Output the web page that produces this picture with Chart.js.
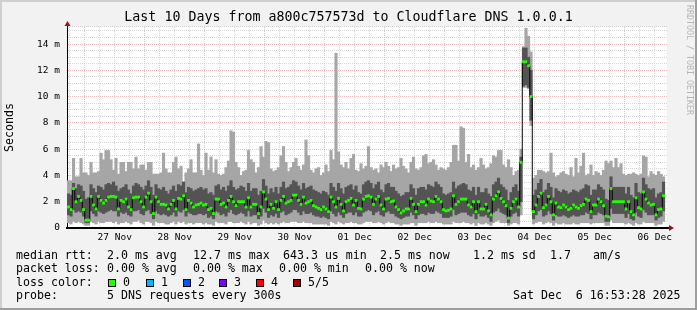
<!DOCTYPE html>
<html>
<head>
<meta charset="utf-8">
<script src="https://cdn.jsdelivr.net/npm/chart.js@4/dist/chart.umd.min.js"></script>
<style>
html,body{margin:0;padding:0;background:#f2f2f2;}
#wrap{position:relative;width:697px;height:310px;}
</style>
</head>
<body>
<div id="wrap"><canvas id="c" width="697" height="310"></canvas></div>
<script>
// ---- data (milliseconds), one value per hourly slot, first slot starts 26 Nov 17:00 ----
const FIRST_SLOT_HOUR = 17;          // hours since 26 Nov 00:00
const RANGE_START = 16.891;          // 26 Nov 16:53:28
const RANGE_END = 256.891;           // 06 Dec 16:53:28

const pingMin = [
0.4,0.3,0.5,0.4,0.5,0.4,0.3,0.2,0.2,0.5,
0.4,0.3,0.5,0.4,0.4,0.5,0.5,0.5,0.4,0.5,
0.3,0.4,0.4,0.5,0.4,0.3,0.5,0.5,0.6,0.4,
0.3,0.5,0.5,0.4,0.2,0.5,0.4,0.4,0.4,0.3,
0.3,0.4,0.5,0.3,0.5,0.4,0.5,0.3,0.4,0.4,
0.3,0.4,0.4,0.4,0.3,0.4,0.3,0.3,0.2,0.5,
0.4,0.4,0.4,0.3,0.5,0.5,0.4,0.4,0.4,0.5,
0.4,0.3,0.5,0.3,0.4,0.4,0.2,0.3,0.6,0.4,
0.3,0.4,0.3,0.4,0.3,0.4,0.5,0.4,0.4,0.5,
0.5,0.5,0.4,0.4,0.5,0.4,0.4,0.4,0.3,0.3,
0.3,0.3,0.3,0.3,0.2,0.5,0.4,0.3,0.5,0.4,
0.3,0.4,0.4,0.5,0.4,0.4,0.3,0.3,0.4,0.5,
0.5,0.5,0.4,0.4,0.5,0.4,0.3,0.4,0.5,0.4,
0.4,0.3,0.3,0.2,0.3,0.3,0.3,0.4,0.4,0.2,
0.4,0.4,0.4,0.4,0.5,0.4,0.4,0.5,0.4,0.4,
0.3,0.3,0.3,0.3,0.5,0.4,0.4,0.4,0.5,0.4,
0.4,0.3,0.4,0.2,0.4,0.3,0.3,0.4,0.3,0.2,
0.4,0.5,0.6,0.4,0.4,0.4,0.2,0.3,0.4,0.4,
0.3,1.0,10.7,10.7,10.6,7.8,0.3,0.4,0.5,0.5,
0.3,0.4,0.5,0.4,0.2,0.4,0.3,0.3,0.4,0.3,
0.3,0.3,0.4,0.3,0.3,0.4,0.4,0.4,0.4,0.3,
0.4,0.4,0.4,0.4,0.4,0.2,0.2,0.6,0.4,0.4,
0.4,0.4,0.4,0.3,0.4,0.3,0.2,0.4,0.3,0.3,
0.5,0.4,0.4,0.4,0.4,0.2,0.3,0.3,0.5];

const pingLow = [
1.0,0.9,1.4,1.2,1.3,1.2,0.9,0.4,0.4,1.3,
1.1,0.9,1.3,1.2,1.1,1.2,1.3,1.4,1.3,1.3,
0.9,1.2,1.1,1.2,1.0,0.9,1.3,1.3,1.4,1.1,
1.0,1.3,1.4,1.1,0.7,1.3,1.1,1.0,1.1,1.0,
0.9,1.0,1.2,0.9,1.3,1.2,1.4,0.9,1.2,1.1,
1.0,1.0,1.1,1.1,1.0,1.1,0.8,0.9,0.7,1.3,
1.2,1.0,1.1,0.9,1.2,1.4,1.1,1.0,1.1,1.2,
1.1,0.9,1.3,0.9,1.0,1.0,0.7,0.9,1.5,1.2,
0.8,1.0,0.9,1.1,0.8,1.2,1.3,1.0,1.1,1.2,
1.4,1.4,1.2,1.0,1.3,1.1,1.1,1.2,1.0,0.9,
0.9,0.8,0.9,0.8,0.7,1.3,1.1,0.9,1.2,1.0,
0.8,1.1,1.2,1.2,1.0,1.2,0.9,0.9,1.2,1.3,
1.4,1.3,1.0,1.2,1.3,1.0,0.9,1.2,1.3,1.1,
1.1,0.9,0.8,0.7,0.8,0.9,0.9,1.2,1.0,0.7,
1.0,1.1,1.1,1.0,1.2,1.1,1.1,1.3,1.2,1.1,
0.8,0.8,0.8,0.9,1.4,1.0,1.1,1.2,1.2,1.2,
1.0,0.9,1.1,0.7,1.1,0.9,0.9,1.0,0.8,0.5,
1.2,1.3,1.5,1.2,1.1,1.0,0.4,0.9,1.1,1.2,
0.9,2.0,10.8,10.9,10.7,8.2,0.7,1.0,1.3,1.4,
0.9,1.0,1.3,1.1,0.6,1.0,0.9,0.9,1.0,0.9,
0.8,0.9,1.0,0.9,0.9,1.0,1.0,1.2,1.1,0.7,
1.0,1.0,1.2,1.1,1.0,0.5,0.5,1.5,1.1,1.1,
1.1,1.1,1.1,0.8,1.1,0.7,0.6,1.2,0.9,0.8,
1.4,1.2,1.0,1.0,1.0,0.6,0.8,0.9,1.3];

const median = [
1.6,1.4,3.0,2.0,2.4,2.1,1.4,0.6,0.6,2.4,
1.75,1.45,2.4,2.1,1.9,2.1,2.35,2.4,2.4,2.35,
1.45,2.1,2.0,2.2,1.6,1.4,2.3,2.35,2.35,2.0,
1.6,2.35,2.65,2.0,1.1,2.35,2.0,1.8,1.8,1.75,
1.45,1.8,2.1,1.45,2.25,2.2,2.45,1.4,2.1,1.9,
1.6,1.75,1.8,1.9,1.75,1.8,1.4,1.5,1.1,2.2,
2.2,1.8,1.9,1.6,2.1,2.4,2.0,1.7,2.0,2.0,
2.0,1.6,2.3,1.6,1.8,1.8,1.1,1.6,2.75,2.2,
1.4,1.8,1.5,2.0,1.4,2.1,2.4,1.9,2.0,2.1,
2.5,2.5,2.1,1.8,2.35,1.9,2.0,2.1,1.7,1.6,
1.5,1.4,1.6,1.45,1.25,2.35,2.0,1.6,2.25,1.8,
1.3,2.0,2.1,2.25,1.75,2.1,1.5,1.45,2.2,2.4,
2.45,2.35,1.8,2.2,2.4,1.75,1.45,2.2,2.25,2.0,
2.05,1.6,1.4,1.15,1.3,1.45,1.45,2.25,1.8,1.25,
1.8,2.0,2.0,1.75,2.2,2.05,2.0,2.4,2.2,2.0,
1.4,1.3,1.35,1.45,2.45,1.8,2.0,2.2,2.2,2.2,
1.75,1.6,2.0,1.25,2.0,1.45,1.45,1.8,1.3,1.0,
2.2,2.45,2.75,2.25,2.0,1.7,0.75,1.5,2.0,2.2,
1.6,5.0,12.65,12.65,12.35,10.0,1.25,1.75,2.4,2.65,
1.55,1.75,2.4,2.0,1.0,1.9,1.6,1.55,1.75,1.6,
1.4,1.5,1.75,1.6,1.5,1.7,1.8,2.2,2.1,1.25,
1.75,1.75,2.2,2.0,1.7,0.9,0.85,3.0,2.0,2.0,
2.0,2.0,2.0,1.45,2.0,1.25,1.0,2.3,1.55,1.45,
2.75,2.2,1.9,1.75,1.8,1.0,1.4,1.45,2.45];

const pingHigh = [
2.6,2.5,3.4,3.0,3.3,3.2,2.8,2.2,2.3,3.3,
3.0,2.7,3.2,3.1,2.9,3.3,3.4,3.3,3.5,3.2,
2.8,3.0,3.1,3.3,2.9,2.6,3.2,3.4,3.3,3.1,
2.9,3.2,3.6,3.1,2.5,3.3,3.0,2.9,3.1,2.8,
2.6,2.9,3.2,2.8,3.3,3.2,3.5,2.7,3.1,3.0,
2.8,2.9,3.0,3.1,2.9,3.0,2.6,2.7,2.5,3.2,
3.3,2.9,3.1,2.8,3.2,3.6,3.1,2.9,3.0,3.2,
3.1,2.8,3.4,2.8,3.0,3.0,2.5,2.8,3.7,3.2,
2.6,3.0,2.7,3.1,2.6,3.1,3.5,3.0,3.1,3.3,
3.6,3.5,3.2,2.9,3.4,3.0,3.1,3.2,2.9,2.8,
2.7,2.6,2.8,2.7,2.5,3.4,3.1,2.8,3.4,3.0,
2.6,3.1,3.2,3.3,2.9,3.2,2.7,2.6,3.3,3.5,
3.6,3.4,3.0,3.3,3.5,2.9,2.7,3.3,3.4,3.1,
3.1,2.8,2.6,2.4,2.5,2.7,2.7,3.3,3.0,2.5,
3.0,3.1,3.1,2.9,3.3,3.2,3.1,3.5,3.3,3.1,
2.6,2.5,2.6,2.7,3.5,3.0,3.2,3.3,3.4,3.3,
2.9,2.8,3.1,2.5,3.1,2.7,2.7,3.0,2.6,2.4,
3.3,3.5,3.8,3.3,3.1,2.9,2.1,2.7,3.1,3.3,
2.8,5.4,13.7,13.7,13.0,12.0,2.5,2.9,3.4,3.7,
2.7,2.9,3.4,3.1,2.3,3.0,2.8,2.7,2.9,2.8,
2.6,2.7,2.9,2.8,2.7,2.9,3.0,3.3,3.2,2.5,
2.9,2.9,3.3,3.1,2.9,2.2,2.1,3.9,3.1,3.1,
3.1,3.1,3.1,2.6,3.1,2.5,2.3,3.4,2.7,2.6,
3.8,3.3,3.0,2.9,3.0,2.3,2.6,2.7,3.5];

const pingMax = [
3.6,3.6,5.3,3.9,3.9,5.3,4.2,4.2,4.0,5.0,
4.2,4.2,4.3,5.7,5.2,5.9,5.9,5.2,4.4,5.3,
4.1,5.0,5.0,4.3,5.0,5.0,4.5,5.4,4.5,4.8,
4.8,4.4,5.0,5.0,4.1,4.1,4.1,4.2,5.7,4.5,
4.2,4.2,5.0,5.4,4.5,4.7,3.5,4.2,4.5,5.2,
4.2,4.2,6.4,4.4,4.0,5.7,4.4,5.4,4.2,5.2,
4.1,4.0,4.1,4.6,5.1,7.4,7.3,5.0,4.6,4.0,
4.3,4.4,5.9,5.2,5.0,4.2,4.6,6.2,5.4,6.6,
6.5,4.5,4.3,4.4,4.6,5.5,6.2,5.0,4.3,4.6,
5.0,5.3,4.7,4.4,4.8,6.7,5.5,4.4,4.2,4.5,
4.6,4.0,4.2,4.8,4.3,5.9,5.2,13.3,5.8,4.8,
4.6,5.0,4.5,5.3,5.6,4.4,4.3,4.9,4.5,4.7,
6.2,4.6,4.4,4.5,4.2,4.8,4.6,5.0,4.7,4.3,
4.8,4.5,4.6,5.3,4.7,4.5,4.2,5.0,5.4,4.5,
4.4,4.6,5.5,5.6,4.9,5.0,5.2,4.8,4.4,4.6,
4.5,4.4,4.6,5.0,6.3,6.3,5.1,7.7,7.6,5.0,
5.6,4.6,4.8,4.4,4.6,5.3,4.8,4.5,4.6,4.9,
5.5,5.4,5.9,5.9,4.8,4.6,5.2,4.6,4.0,4.3,
4.4,6.0,13.8,15.2,14.6,13.4,3.8,4.0,4.4,4.4,
4.3,4.2,4.3,5.7,4.2,3.9,4.0,4.2,4.3,4.1,
4.0,4.6,3.9,5.3,4.2,4.7,5.7,4.0,4.1,4.8,
4.0,4.3,4.2,4.0,4.4,5.1,4.9,5.1,4.6,5.3,
4.6,4.9,4.1,4.0,4.1,4.1,4.2,4.1,4.0,4.1,
5.5,5.4,3.9,4.3,4.1,4.0,4.3,4.1,3.9];

const dayLabels = ['27 Nov','28 Nov','29 Nov','30 Nov','01 Dec','02 Dec','03 Dec','04 Dec','05 Dec','06 Dec'];
const yTickLabels = ['0','2 m','4 m','6 m','8 m','10 m','12 m','14 m'];
const lossColors = ['#26ff00','#00b8ff','#0059ff','#7e00ff','#ff0000','#a10000'];
const lossLabels = ['0','1','2','3','4','5/5'];

// ---- build library data ----
const slotX = i => FIRST_SLOT_HOUR + i + 0.5;
const outerBand = pingMin.map((v, i) => ({x: slotX(i), y: [v, pingMax[i]]}));
const innerBand = pingLow.map((v, i) => ({x: slotX(i), y: [v, pingHigh[i]]}));
const medianPts = median.map((v, i) => ({x: slotX(i), y: v}));

const MONO = "'DejaVu Sans Mono', 'Liberation Mono', monospace";
const GRID_GRAY = 'rgba(195,195,195,0.7)';
const GRID_RED = 'rgba(225,120,120,0.5)';

const frame = {
  id: 'frame',
  beforeDraw(chart) {
    const {ctx, width, height, chartArea: a} = chart;
    ctx.save();
    ctx.fillStyle = '#f2f2f2';
    ctx.fillRect(0, 0, width, height);
    ctx.fillStyle = '#ffffff';
    ctx.fillRect(a.left, a.top, a.right - a.left, a.bottom - a.top);
    ctx.restore();
  },
  afterDraw(chart) {
    const {ctx, width, height, chartArea: a} = chart;
    ctx.save();
    // shaded frame
    ctx.fillStyle = '#cfcfcf';
    ctx.fillRect(0, 0, width, 2);
    ctx.fillRect(0, 0, 2, height);
    ctx.fillStyle = '#9e9e9e';
    ctx.fillRect(0, height - 2, width, 2);
    ctx.fillRect(width - 2, 0, 2, height);
    // axis arrows
    ctx.fillStyle = '#000';
    ctx.fillRect(a.right, a.bottom - 1, 2, 2);
    ctx.fillRect(a.left, a.top - 1, 1, 1);
    ctx.fillStyle = '#a01010';
    ctx.beginPath();
    ctx.moveTo(a.left + 0.5, a.top - 6);
    ctx.lineTo(a.left - 2.5, a.top - 1);
    ctx.lineTo(a.left + 3.5, a.top - 1);
    ctx.closePath();
    ctx.fill();
    ctx.beginPath();
    ctx.moveTo(a.right + 7, a.bottom);
    ctx.lineTo(a.right + 2, a.bottom - 3);
    ctx.lineTo(a.right + 2, a.bottom + 3);
    ctx.closePath();
    ctx.fill();
    // watermark
    ctx.save();
    ctx.translate(689, 5);
    ctx.rotate(Math.PI / 2);
    ctx.font = '8.3px ' + MONO;
    ctx.fillStyle = 'rgba(120,120,120,0.5)';
    ctx.textBaseline = 'middle';
    ctx.textAlign = 'left';
    ctx.fillText('RRDTOOL / TOBI OETIKER', 0, 0);
    ctx.restore();
    // legend text
    ctx.font = '11.6px ' + MONO;
    ctx.fillStyle = '#000';
    ctx.textBaseline = 'alphabetic';
    ctx.textAlign = 'left';
    const rows = [
      [258.5, [['median rtt:', 16], ['2.0 ms avg', 107], ['12.7 ms max', 193], ['643.3 us min', 283], ['2.5 ms now', 380], ['1.2 ms sd', 473], ['1.7', 550], ['am/s', 593]]],
      [272, [['packet loss:', 16], ['0.00 % avg', 107], ['0.00 % max', 193], ['0.00 % min', 279], ['0.00 % now', 365]]],
      [285.5, [['loss color:', 16]]],
      [299, [['probe:', 16], ['5 DNS requests every 300s', 107], ['Sat Dec  6 16:53:28 2025', 513]]]
    ];
    rows.forEach(([y, parts]) => parts.forEach(([t, x]) => ctx.fillText(t, x, y)));
    const boxX = [108, 146, 183, 219, 256, 293];
    lossLabels.forEach((lab, i) => {
      ctx.fillStyle = lossColors[i];
      ctx.fillRect(boxX[i] + 0.5, 279.5, 7, 7);
      ctx.strokeStyle = '#000';
      ctx.lineWidth = 1;
      ctx.strokeRect(boxX[i] + 0.5, 279.5, 7, 7);
      ctx.fillStyle = '#000';
      ctx.fillText(lab, boxX[i] + 15, 285.5);
    });
    ctx.restore();
  }
};

const isMidnight = v => Math.abs(v % 24) < 1e-6;
const isMajorY = v => Math.abs(v % 2) < 1e-6;

new Chart(document.getElementById('c'), {
  type: 'bar',
  data: {
    datasets: [
      {
        type: 'line', label: 'median rtt', data: medianPts, order: 0,
        stepped: 'middle', borderColor: '#000', borderWidth: 1, fill: false,
        pointStyle: 'rect', pointRadius: 2.0, pointBackgroundColor: '#26ff00', pointBorderWidth: 0
      },
      {
        type: 'bar', label: 'inner smoke', data: innerBand, order: 1, grouped: false,
        backgroundColor: '#545454', borderWidth: 0, barPercentage: 1, categoryPercentage: 1
      },
      {
        type: 'bar', label: 'outer smoke', data: outerBand, order: 2, grouped: false,
        backgroundColor: '#a6a6a6', borderWidth: 0, barPercentage: 1, categoryPercentage: 1
      }
    ]
  },
  options: {
    responsive: false,
    animation: false,
    devicePixelRatio: 1,
    layout: {padding: {left: 0, right: 0, top: 0, bottom: 62}},
    plugins: {
      legend: {display: false},
      tooltip: {enabled: false},
      title: {
        display: true,
        text: 'Last 10 Days from a800c757573d to Cloudflare DNS 1.0.0.1',
        color: '#000',
        font: {family: MONO, size: 13.3, weight: 'normal'},
        padding: {top: 10, bottom: 1}
      }
    },
    scales: {
      x: {
        type: 'linear', min: RANGE_START, max: RANGE_END, bounds: 'data',
        offset: false, z: 1,
        afterBuildTicks: s => {
          const t = [];
          for (let h = Math.ceil(RANGE_START / 6) * 6; h < RANGE_END; h += 6) t.push({value: h});
          s.ticks = t;
        },
        afterFit: s => { s.height = 20; },
        ticks: {
          autoSkip: false, maxRotation: 0, minRotation: 0, padding: 4, color: '#000',
          font: {family: MONO, size: 9.5},
          callback: v => (Math.abs(v % 24 - 12) < 1e-6 ? dayLabels[Math.round((v - 36) / 24)] : '')
        },
        grid: {
          offset: false, drawTicks: false, lineWidth: 1,
          color: c => (c.tick && isMidnight(c.tick.value) ? GRID_RED : GRID_GRAY)
        },
        border: {display: true, color: '#000', width: 2, dash: [1, 1]}
      },
      y: {
        type: 'linear', min: 0, max: 15.3, bounds: 'data', z: 1,
        afterFit: s => { s.width = 67; },
        ticks: {
          stepSize: 0.5, includeBounds: false, autoSkip: false, padding: 7, color: '#000',
          font: {family: MONO, size: 9.5},
          callback: v => (isMajorY(v) ? yTickLabels[Math.round(v / 2)] : '')
        },
        grid: {
          drawTicks: false, lineWidth: 1,
          color: c => (c.tick && isMajorY(c.tick.value) && c.tick.value > 0 ? GRID_RED : GRID_GRAY)
        },
        border: {display: true, color: '#000', width: 1, dash: [1, 1]},
        title: {display: true, text: 'Seconds', color: '#000', font: {family: MONO, size: 11.6}, padding: {top: 3, bottom: 0}}
      },
      yRight: {
        type: 'linear', position: 'right', display: true,
        grid: {display: false}, ticks: {display: false}, border: {display: false},
        afterFit: s => { s.width = 30; }
      }
    }
  },
  plugins: [frame]
});
</script>
</body>
</html>
